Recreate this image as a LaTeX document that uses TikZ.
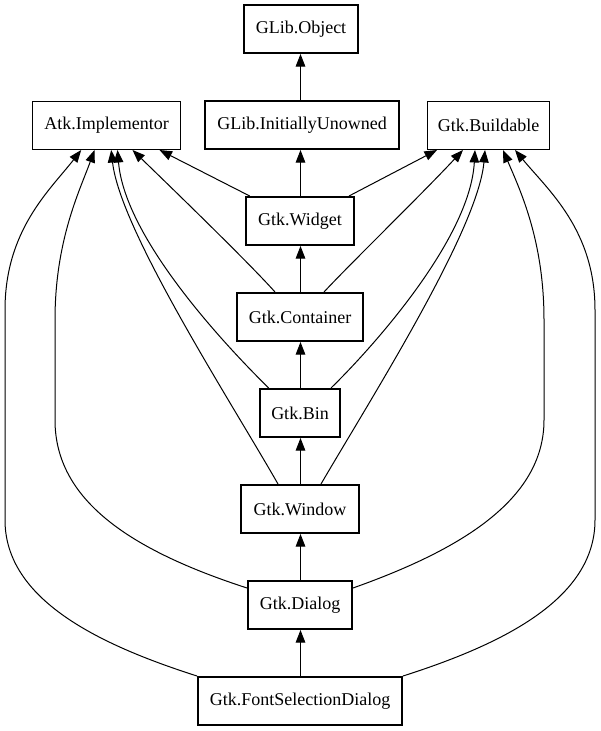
\documentclass[tikz,border=0pt]{standalone}
\usepackage{fontspec}
\setmainfont{Liberation Serif}
\usetikzlibrary{arrows.meta}
\begin{document}
\begin{tikzpicture}[x=1pt,y=-1pt,
  cls/.style={draw=black,line width=2pt,fill=white,inner sep=0pt,minimum height=48pt,font=\fontsize{18}{20}\selectfont},
  iface/.style={cls,line width=1pt},
  edge/.style={draw=black,line width=1pt,-{Triangle[length=12.5pt,width=9.5pt]}},
  vedge/.style={edge,line width=1pt}]
\useasboundingbox[fill=white] (0,0) rectangle (600,731);
\node[cls,minimum width=114pt] (obj) at (301,29) {GLib.Object};
\node[iface,minimum width=148pt] (atk) at (106.5,125.5) {Atk.Implementor};
\node[cls,minimum width=194pt] (unowned) at (302,125) {GLib.InitiallyUnowned};
\node[iface,minimum width=122pt] (build) at (488.5,125.5) {Gtk.Buildable};
\node[cls,minimum width=108pt] (widget) at (300,221) {Gtk.Widget};
\node[cls,minimum width=126pt] (container) at (300,317) {Gtk.Container};
\node[cls,minimum width=80pt] (bin) at (300,413) {Gtk.Bin};
\node[cls,minimum width=118pt] (window) at (300,509) {Gtk.Window};
\node[cls,minimum width=104pt] (dialog) at (300,605) {Gtk.Dialog};
\node[cls,minimum width=204pt] (fsd) at (300,701) {Gtk.FontSelectionDialog};

% vertical chain
\draw[vedge] ([xshift=0.5pt]unowned.north -| widget.north) -- ([xshift=0.5pt]widget.north |- obj.south);
\draw[vedge] ([xshift=0.5pt]widget.north) -- ([xshift=0.5pt]widget.north |- unowned.south);
\draw[vedge] ([xshift=0.5pt]container.north) -- ([xshift=0.5pt]widget.south);
\draw[vedge] ([xshift=0.5pt]bin.north) -- ([xshift=0.5pt]container.south);
\draw[vedge] ([xshift=0.5pt]window.north) -- ([xshift=0.5pt]bin.south);
\draw[vedge] ([xshift=0.5pt]dialog.north) -- ([xshift=0.5pt]window.south);
\draw[vedge] ([xshift=0.5pt]fsd.north) -- ([xshift=0.5pt]dialog.south);

% to Atk.Implementor
\draw[edge] ([xshift=4.7pt]widget.north west) -- ([xshift=127.5pt]atk.south west);
\draw[edge] ([xshift=39pt]container.north west) .. controls (250,264) and (180,196) .. ([xshift=100.5pt]atk.south west);
\draw[edge] ([xshift=9.7pt]bin.north west) .. controls (230,350) and (125,240) .. ([xshift=85.5pt]atk.south west);
\draw[edge] ([xshift=38pt]window.north west) .. controls (230,400) and (120,230) .. ([xshift=79.2pt]atk.south west);
\draw[edge] ([yshift=-8pt]dialog.north west) .. controls (130,550) and (55,500) .. (55,420) -- (55,320) .. controls (55,240) and (80,190) .. ([xshift=62.5pt]atk.south west);
\draw[edge] (fsd.north west) .. controls (100,645) and (5,600) .. (5,520) -- (5,310) .. controls (5,230) and (50,190) .. ([xshift=49.2pt]atk.south west);

% to Gtk.Buildable
\draw[edge] ([xshift=-6pt]widget.north east) -- ([xshift=10pt]build.south west);
\draw[edge] ([xshift=-40pt]container.north east) .. controls (350,264) and (420,196) .. ([xshift=36pt]build.south west);
\draw[edge] ([xshift=-10pt]bin.north east) .. controls (370,350) and (470,240) .. ([xshift=48pt]build.south west);
\draw[edge] ([xshift=-39pt]window.north east) .. controls (370,400) and (478,230) .. ([xshift=58pt]build.south west);
\draw[edge] ([yshift=-8pt]dialog.north east) .. controls (460,550) and (544,500) .. (544,420) -- (544,320) .. controls (544,240) and (520,190) .. ([xshift=76pt]build.south west);
\draw[edge] (fsd.north east) .. controls (500,645) and (595,600) .. (595,520) -- (595,310) .. controls (595,230) and (548,190) .. ([xshift=88pt]build.south west);
\end{tikzpicture}
\end{document}
